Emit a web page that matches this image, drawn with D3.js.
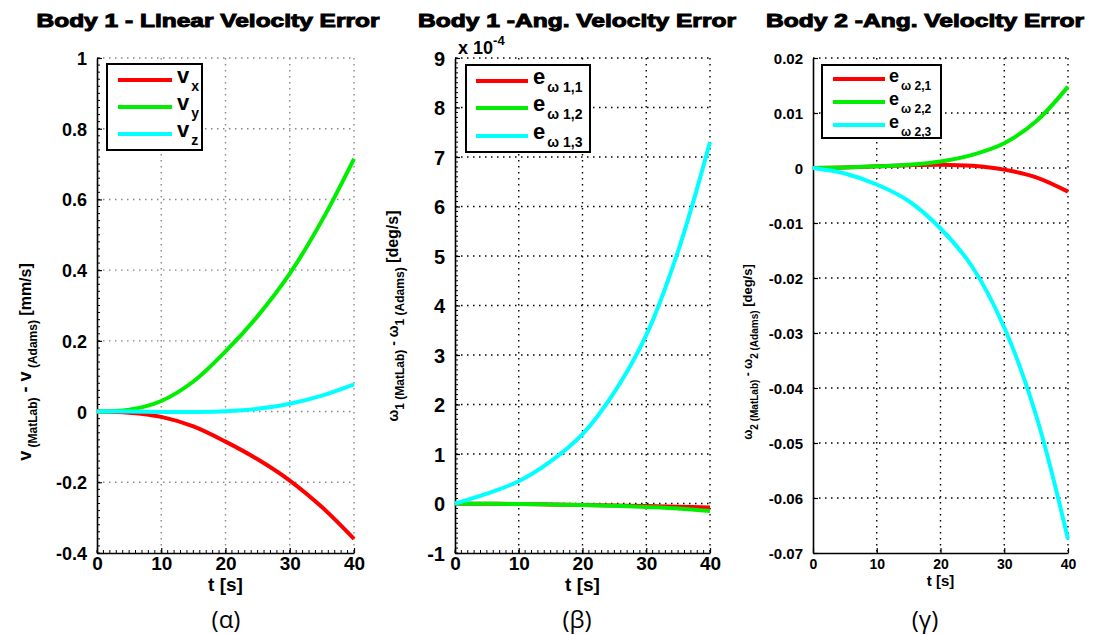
<!DOCTYPE html>
<html>
<head>
<meta charset="utf-8">
<script src="https://cdn.jsdelivr.net/npm/d3@7"></script>
<style>
  body { margin: 0; background: #fff; }
  svg { display: block; }
</style>
</head>
<body>
<div id="chart"></div>
<script>
// sample times
const time = [0, 5, 10, 15, 20, 25, 30, 35, 40]

// Body 1 linear velocity error [mm/s]
const vx = [0, -0.003, -0.015, -0.042, -0.085, -0.135, -0.195, -0.27, -0.36]
const vy = [0, 0.005, 0.03, 0.085, 0.17, 0.27, 0.39, 0.54, 0.715]
const vz = [0, 0, -0.001, -0.001, 0.001, 0.008, 0.022, 0.045, 0.077]

// Body 1 ang. velocity error [deg/s] (x 1e-4)
const w11 = [0, -0.005, -0.01, -0.02, -0.03, -0.04, -0.05, -0.065, -0.08]
const w12 = [0, -0.005, -0.01, -0.02, -0.03, -0.045, -0.07, -0.1, -0.15]
const w13 = [0, 0.2, 0.45, 0.85, 1.4, 2.25, 3.4, 5.1, 7.3]

// Body 2 ang. velocity error [deg/s]
const w21 = [0, 0.0001, 0.0003, 0.0005, 0.0006, 0.0004, -0.0003, -0.0017, -0.0043]
const w22 = [0, 0.0001, 0.0003, 0.0006, 0.0012, 0.0024, 0.0045, 0.0085, 0.0148]
const w23 = [0, -0.001, -0.003, -0.006, -0.011, -0.018, -0.029, -0.045, -0.0675]

const xTicks = [0, 10, 20, 30, 40]
const yTicks1 = [-0.4, -0.2, 0, 0.2, 0.4, 0.6, 0.8, 1]
const yTicks2 = [-1, 0, 1, 2, 3, 4, 5, 6, 7, 8, 9]
const yTicks3 = [-0.07, -0.06, -0.05, -0.04, -0.03, -0.02, -0.01, 0, 0.01, 0.02]
const colors = ['#ff0000', '#00ee00', '#00ffff']
const captions = ['(α)', '(β)', '(γ)']

const W = 1105
const H = 635
const svg = d3.select('#chart').append('svg')
    .attr('width', W)
    .attr('height', H)
    .attr('font-family', '"Liberation Sans", Arial, sans-serif')

const hyphen = s => String(s).replace('−', '-')

const panels = [
    {
        left: 97, right: 354, title: 'Body 1 - Linear Velocity Error', titleX: 208, titleW: 343,
        yDomain: [-0.4, 1], yTicks: yTicks1, yFmt: d => hyphen(d3.format('.1~f')(d)), tickSize: 18, xTickSize: 19, xPad: 4,
        series: [vx, vy, vz], minorX: 1, minorY: 0.02, grid: '#888',
        legend: { x: 107, y: 64, w: 95, h: 86, lineX: [118, 172], rows: [80, 107, 134], textX: 177 },
        legendText: [['v', 'x'], ['v', 'y'], ['v', 'z']],
        yLabel: [['v', 18, 0], [' (MatLab)', 12, 1], [' - v', 18, 0], [' (Adams)', 12, 1], [' [mm/s]', 16, 0]],
        yLabelX: 31, yLabelY: 362, xLabelSize: 19, xLabelY: 591
    },
    {
        left: 455, right: 710, title: 'Body 1 -Ang. Velocity Error', titleX: 577, titleW: 318,
        yDomain: [-1, 9], yTicks: yTicks2, yFmt: d => hyphen(d), tickSize: 20, xTickSize: 19, xPad: 4,
        series: [w11, w12, w13], minorX: 1, minorY: 0.1, grid: '#000',
        legend: { x: 466, y: 65, w: 124, h: 87, lineX: [476, 528], rows: [81, 108, 136], textX: 533 },
        legendText: [['e', 'ω 1,1'], ['e', 'ω 1,2'], ['e', 'ω 1,3']],
        yLabel: [['ω', 14, 0], ['1 (MatLab)', 12, 1], [' - ω', 14, 0], ['1 (Adams)', 12, 1], [' [deg/s]', 16, 0]],
        yLabelX: 398, yLabelY: 316, xLabelSize: 19, xLabelY: 591
    },
    {
        left: 813, right: 1068, title: 'Body 2 -Ang. Velocity Error', titleX: 925, titleW: 318,
        yDomain: [-0.07, 0.02], yTicks: yTicks3, yFmt: d => (d === 0 ? '0' : hyphen(d3.format('.2f')(d))), tickSize: 15, xTickSize: 14, xPad: 6,
        series: [w21, w22, w23], minorX: 0, minorY: 0, grid: '#000',
        legend: { x: 822, y: 65, w: 119, h: 73, lineX: [833, 885], rows: [79, 102, 125], textX: 889 },
        legendText: [['e', 'ω 2,1'], ['e', 'ω 2,2'], ['e', 'ω 2,3']],
        yLabel: [['ω', 12, 0], ['2 (MatLab)', 10, 1], [' - ω', 12, 0], ['2 (Adams)', 10, 1], [' [deg/s]', 13, 0]],
        yLabelX: 752, yLabelY: 352, xLabelSize: 15, xLabelY: 586
    }
]

const plotTop = 58
const plotBottom = 553

panels.forEach((p, pi) => {
    const x = d3.scaleLinear().domain([0, 40]).range([p.left, p.right])
    const y = d3.scaleLinear().domain(p.yDomain).range([plotBottom, plotTop])
    const g = svg.append('g')

    // title
    g.append('text')
        .attr('x', p.titleX)
        .attr('y', 27)
        .attr('text-anchor', 'middle')
        .attr('font-size', 19)
        .attr('font-weight', 900)
        .attr('stroke', '#000')
        .attr('stroke-width', 1)
        .attr('textLength', p.titleW)
        .attr('lengthAdjust', 'spacingAndGlyphs')
        .text(p.title)

    // dotted grid
    xTicks.forEach(t => {
        if (t === 0) return
        g.append('line')
            .attr('x1', x(t)).attr('x2', x(t))
            .attr('y1', plotTop).attr('y2', plotBottom)
            .attr('stroke', p.grid)
            .attr('stroke-width', 1.4)
            .attr('stroke-dasharray', '1.5,4.5')
    })
    p.yTicks.forEach(t => {
        if (t === p.yDomain[0]) return
        g.append('line')
            .attr('x1', p.left).attr('x2', p.right)
            .attr('y1', y(t)).attr('y2', y(t))
            .attr('stroke', p.grid)
            .attr('stroke-width', 1.4)
            .attr('stroke-dasharray', '1.5,4.5')
    })

    // minor ticks
    if (p.minorX) {
        d3.range(0, 40 + 1e-9, p.minorX).forEach(t => {
            g.append('line')
                .attr('x1', x(t)).attr('x2', x(t))
                .attr('y1', plotBottom).attr('y2', plotBottom - 3)
                .attr('stroke', '#000')
        })
    }
    if (p.minorY) {
        d3.range(p.yDomain[0], p.yDomain[1] + 1e-9, p.minorY).forEach(t => {
            g.append('line')
                .attr('x1', p.left).attr('x2', p.left + 3)
                .attr('y1', y(t)).attr('y2', y(t))
                .attr('stroke', '#000')
        })
    }

    // axes
    const xAxis = d3.axisBottom(x).tickValues(xTicks).tickSizeInner(-5).tickSizeOuter(0).tickPadding(p.xPad)
    const yAxis = d3.axisLeft(y).tickValues(p.yTicks).tickFormat(p.yFmt).tickSizeInner(-5).tickSizeOuter(0).tickPadding(10)
    const gx = g.append('g').attr('transform', `translate(0,${plotBottom})`).call(xAxis)
    const gy = g.append('g').attr('transform', `translate(${p.left},0)`).call(yAxis)
    ;[gx, gy].forEach((a, ai) => {
        a.select('.domain').attr('stroke', '#000').attr('stroke-width', 1.6)
        a.selectAll('.tick line').attr('stroke', '#000').attr('stroke-width', 1.2)
        a.selectAll('text')
            .attr('font-family', '"Liberation Sans", Arial, sans-serif')
            .attr('font-weight', 'bold')
            .attr('font-size', ai === 0 ? p.xTickSize : p.tickSize)
            .attr('fill', '#000')
    })
    gy.selectAll('text').attr('dy', '0.36em')

    // curves
    const line = d3.line()
        .x((d, i) => x(time[i]))
        .y(d => y(d))
        .curve(d3.curveCatmullRom.alpha(0.5))
    p.series.forEach((s, si) => {
        g.append('path')
            .datum(s)
            .attr('d', line)
            .attr('fill', 'none')
            .attr('stroke', colors[si])
            .attr('stroke-width', 4)
    })

    // legend
    const L = p.legend
    g.append('rect')
        .attr('x', L.x).attr('y', L.y)
        .attr('width', L.w).attr('height', L.h)
        .attr('fill', '#fff')
        .attr('stroke', '#000')
        .attr('stroke-width', 2)
    p.legendText.forEach((lt, i) => {
        g.append('line')
            .attr('x1', L.lineX[0]).attr('x2', L.lineX[1])
            .attr('y1', L.rows[i]).attr('y2', L.rows[i])
            .attr('stroke', colors[i])
            .attr('stroke-width', 4)
        const t = g.append('text')
            .attr('x', L.textX)
            .attr('y', L.rows[i] + 3)
            .attr('font-weight', 'bold')
        t.append('tspan').attr('font-size', pi === 2 ? 18 : 22).text(lt[0])
        t.append('tspan').attr('font-size', pi === 2 ? 12 : 14).attr('dy', 8).attr('dx', 2).text(lt[1])
    })

    // x label
    g.append('text')
        .attr('x', (p.left + p.right) / 2)
        .attr('y', p.xLabelY)
        .attr('text-anchor', 'middle')
        .attr('font-weight', 'bold')
        .attr('font-size', p.xLabelSize)
        .text('t [s]')

    // y label
    const yl = g.append('text')
        .attr('transform', `translate(${p.yLabelX},${p.yLabelY}) rotate(-90)`)
        .attr('text-anchor', 'middle')
        .attr('font-weight', 'bold')
    let shifted = false
    p.yLabel.forEach(part => {
        const ts = yl.append('tspan').attr('font-size', part[1]).text(part[0])
        if (part[2] && !shifted) { ts.attr('dy', 6); shifted = true } else if (!part[2] && shifted) { ts.attr('dy', -6); shifted = false }
    })

    // caption
    svg.append('text')
        .attr('x', p.titleX + (pi === 0 ? 18 : 0))
        .attr('y', 628)
        .attr('text-anchor', 'middle')
        .attr('font-family', '"Open Sans", sans-serif')
        .attr('font-size', 24)
        .text(captions[pi])
})

// exponent label for panel 2
const ex = svg.append('text')
    .attr('x', 458)
    .attr('y', 54)
    .attr('font-weight', 'bold')
ex.append('tspan').attr('font-size', 18).text('x 10')
ex.append('tspan').attr('font-size', 13).attr('dy', -9).text('-4')
</script>
</body>
</html>
